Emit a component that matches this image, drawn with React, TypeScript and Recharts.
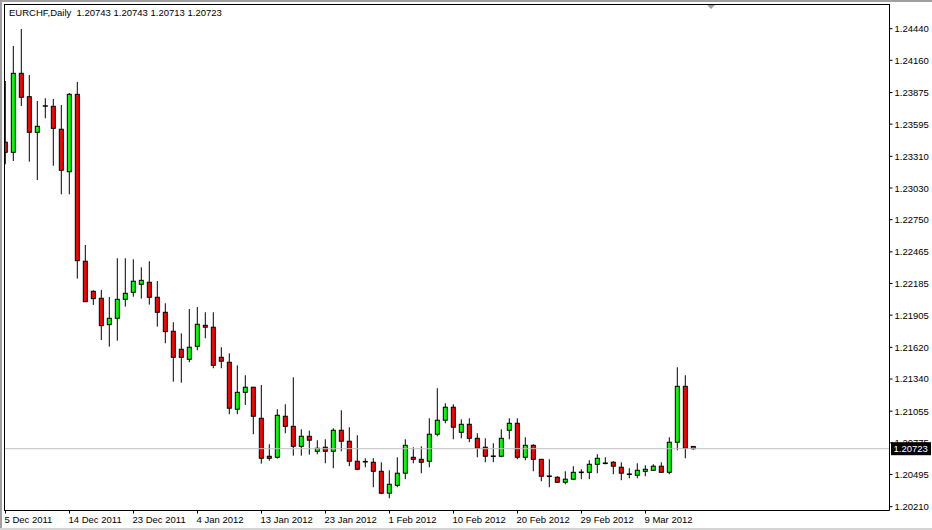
import React from 'react';
import { ComposedChart, Bar, XAxis, YAxis, ReferenceLine } from 'recharts';

const symbol = 'EURCHF';
const period = 'Daily';

const dates = [
  '5 Dec 2011', '6 Dec 2011', '7 Dec 2011', '8 Dec 2011', '9 Dec 2011', '11 Dec 2011', '12 Dec 2011', '13 Dec 2011',
  '14 Dec 2011', '15 Dec 2011', '16 Dec 2011', '18 Dec 2011', '19 Dec 2011', '20 Dec 2011', '21 Dec 2011', '22 Dec 2011',
  '23 Dec 2011', '26 Dec 2011', '27 Dec 2011', '28 Dec 2011', '29 Dec 2011', '30 Dec 2011', '2 Jan 2012', '3 Jan 2012',
  '4 Jan 2012', '5 Jan 2012', '6 Jan 2012', '8 Jan 2012', '9 Jan 2012', '10 Jan 2012', '11 Jan 2012', '12 Jan 2012',
  '13 Jan 2012', '15 Jan 2012', '16 Jan 2012', '17 Jan 2012', '18 Jan 2012', '19 Jan 2012', '20 Jan 2012', '22 Jan 2012',
  '23 Jan 2012', '24 Jan 2012', '25 Jan 2012', '26 Jan 2012', '27 Jan 2012', '29 Jan 2012', '30 Jan 2012', '31 Jan 2012',
  '1 Feb 2012', '2 Feb 2012', '3 Feb 2012', '5 Feb 2012', '6 Feb 2012', '7 Feb 2012', '8 Feb 2012', '9 Feb 2012',
  '10 Feb 2012', '12 Feb 2012', '13 Feb 2012', '14 Feb 2012', '15 Feb 2012', '16 Feb 2012', '17 Feb 2012', '19 Feb 2012',
  '20 Feb 2012', '21 Feb 2012', '22 Feb 2012', '23 Feb 2012', '24 Feb 2012', '26 Feb 2012', '27 Feb 2012', '28 Feb 2012',
  '29 Feb 2012', '1 Mar 2012', '2 Mar 2012', '4 Mar 2012', '5 Mar 2012', '6 Mar 2012', '7 Mar 2012', '8 Mar 2012',
  '9 Mar 2012', '11 Mar 2012', '12 Mar 2012', '13 Mar 2012', '14 Mar 2012', '15 Mar 2012', '16 Mar 2012',
];

const opens = [
  1.23435, 1.23346, 1.24045, 1.23838, 1.23523, 1.23756, 1.23753, 1.23550, 1.23174, 1.23859,
  1.22382, 1.22116, 1.22054, 1.21821, 1.21877, 1.22045, 1.22107, 1.22178, 1.22196, 1.22063,
  1.21930, 1.21762, 1.21603, 1.21514, 1.21629, 1.21815, 1.21798, 1.21532, 1.21488, 1.21072,
  1.21222, 1.21267, 1.20992, 1.20656, 1.20647, 1.21010, 1.20921, 1.20744, 1.20833, 1.20700,
  1.20736, 1.20700, 1.20886, 1.20789, 1.20612, 1.20608, 1.20603, 1.20523, 1.20329, 1.20399,
  1.20506, 1.20647, 1.20629, 1.20612, 1.20851, 1.20975, 1.21090, 1.20868, 1.20939, 1.20815,
  1.20736, 1.20656, 1.20656, 1.20886, 1.20948, 1.20647, 1.20753, 1.20629, 1.20479, 1.20470,
  1.20426, 1.20453, 1.20514, 1.20514, 1.20585, 1.20594, 1.20603, 1.20559, 1.20497, 1.20488,
  1.20523, 1.20532, 1.20568, 1.20514, 1.20780, 1.21275, 1.20743,
];

const highs = [
  1.23977, 1.24287, 1.24437, 1.24030, 1.23800, 1.23824, 1.23818, 1.23765, 1.23871, 1.23968,
  1.22526, 1.22125, 1.22128, 1.22066, 1.22408, 1.22408, 1.22399, 1.22328, 1.22382, 1.22207,
  1.22010, 1.21842, 1.21744, 1.21959, 1.21977, 1.21930, 1.21930, 1.21621, 1.21567, 1.21461,
  1.21373, 1.21270, 1.21287, 1.20762, 1.21072, 1.21116, 1.21355, 1.20895, 1.20883, 1.20798,
  1.20806, 1.20904, 1.21063, 1.20913, 1.20842, 1.20638, 1.20638, 1.20603, 1.20532, 1.20647,
  1.20806, 1.20736, 1.20744, 1.20992, 1.21258, 1.21125, 1.21116, 1.20983, 1.20992, 1.20860,
  1.20815, 1.20771, 1.20895, 1.20992, 1.20992, 1.20824, 1.20762, 1.20632, 1.20629, 1.20479,
  1.20523, 1.20568, 1.20541, 1.20621, 1.20674, 1.20647, 1.20612, 1.20603, 1.20550, 1.20594,
  1.20576, 1.20585, 1.20603, 1.20824, 1.21444, 1.21373, 1.20743,
];

const lows = [
  1.23240, 1.23269, 1.23756, 1.23263, 1.23101, 1.23647, 1.23227, 1.22974, 1.22974, 1.22228,
  1.22021, 1.21995, 1.21685, 1.21626, 1.21679, 1.21980, 1.22068, 1.22051, 1.21998, 1.21803,
  1.21656, 1.21316, 1.21307, 1.21488, 1.21594, 1.21700, 1.21435, 1.21435, 1.21028, 1.21028,
  1.21110, 1.20851, 1.20591, 1.20617, 1.20635, 1.20860, 1.20661, 1.20661, 1.20670, 1.20674,
  1.20594, 1.20550, 1.20700, 1.20568, 1.20532, 1.20559, 1.20382, 1.20320, 1.20284, 1.20382,
  1.20453, 1.20594, 1.20506, 1.20559, 1.20833, 1.20948, 1.20806, 1.20815, 1.20780, 1.20647,
  1.20603, 1.20603, 1.20647, 1.20806, 1.20629, 1.20621, 1.20523, 1.20435, 1.20382, 1.20424,
  1.20408, 1.20444, 1.20453, 1.20453, 1.20506, 1.20585, 1.20497, 1.20444, 1.20461, 1.20461,
  1.20479, 1.20530, 1.20512, 1.20497, 1.20709, 1.20638, 1.20713,
];

const closes = [
  1.23346, 1.24045, 1.23833, 1.23523, 1.23576, 1.23756, 1.23558, 1.23187, 1.23859, 1.22387,
  1.22024, 1.22051, 1.21812, 1.21877, 1.22045, 1.22098, 1.22205, 1.22213, 1.22063, 1.21930,
  1.21759, 1.21532, 1.21532, 1.21621, 1.21824, 1.21798, 1.21461, 1.21497, 1.21081, 1.21222,
  1.21267, 1.21010, 1.20638, 1.20638, 1.21019, 1.20921, 1.20744, 1.20833, 1.20798, 1.20727,
  1.20700, 1.20886, 1.20789, 1.20612, 1.20541, 1.20608, 1.20523, 1.20329, 1.20408, 1.20506,
  1.20753, 1.20629, 1.20603, 1.20851, 1.20975, 1.21090, 1.20913, 1.20939, 1.20815, 1.20727,
  1.20656, 1.20656, 1.20815, 1.20948, 1.20647, 1.20753, 1.20629, 1.20479, 1.20479, 1.20426,
  1.20453, 1.20514, 1.20514, 1.20585, 1.20638, 1.20594, 1.20568, 1.20506, 1.20497, 1.20532,
  1.20541, 1.20568, 1.20514, 1.20780, 1.21275, 1.20727, 1.20723,
];

const dateTicks = [
  '5 Dec 2011', '14 Dec 2011', '23 Dec 2011', '4 Jan 2012', '13 Jan 2012', '23 Jan 2012',
  '1 Feb 2012', '10 Feb 2012', '20 Feb 2012', '29 Feb 2012', '9 Mar 2012',
];

const priceTicks = [
  1.2444, 1.2416, 1.23875, 1.23595, 1.2331, 1.2303, 1.2275, 1.22465,
  1.22185, 1.21905, 1.2162, 1.2134, 1.21055, 1.20775, 1.20495, 1.2021,
];

const priceDomain = [1.20176, 1.24654];

const data = dates.map((date, i) => ({
  date,
  open: opens[i],
  high: highs[i],
  low: lows[i],
  close: closes[i],
}));

const last = data[data.length - 1];
const lastPrice = last.close;

const FONT = "'Liberation Sans', Arial, sans-serif";
const BULL = '#00FF00';
const BEAR = '#FF0000';

function Candle(props: any) {
  const { x, y, width, height, payload } = props;
  if (!payload || x == null || y == null || height == null) return null;
  const cx = x + width / 2;
  const top = Math.min(y, y + height);
  const h = Math.abs(height);
  const span = payload.high - payload.low;
  const py = (v: number) => (span > 0 ? top + ((payload.high - v) / span) * h : top);
  const yO = py(payload.open);
  const yC = py(payload.close);
  const bTop = Math.min(yO, yC);
  const bBot = Math.max(yO, yC);
  const isDoji = bBot - bTop < 1;
  const fill = payload.close >= payload.open ? BULL : BEAR;
  return (
    <g>
      <line x1={cx} x2={cx} y1={top} y2={top + h} stroke="#000" strokeWidth={1} />
      {isDoji ? (
        <line x1={cx - 2.5} x2={cx + 2.5} y1={yO} y2={yO} stroke="#000" strokeWidth={1.6} />
      ) : (
        <rect x={cx - 2} y={bTop} width={4} height={bBot - bTop} fill={fill} stroke="#000" strokeWidth={1} />
      )}
    </g>
  );
}

function XTick(props: any) {
  const { x, y, payload } = props;
  return (
    <text x={x - 1} y={y + 9} textAnchor="start" fontSize={9.5} fontFamily={FONT} fill="#000">
      {payload.value}
    </text>
  );
}

function YTick(props: any) {
  const { x, y, payload } = props;
  return (
    <text x={x} y={y + 3.5} textAnchor="start" fontSize={9.5} fontFamily={FONT} fill="#000">
      {Number(payload.value).toFixed(5)}
    </text>
  );
}

function PriceLabel(props: any) {
  const vb = props.viewBox || {};
  const right = (vb.x || 0) + (vb.width || 0);
  const yy = vb.y || 0;
  return (
    <g>
      <rect x={right + 1.5} y={yy - 6.5} width={40} height={13} fill="#000" />
      <text x={right + 4} y={yy + 3.5} textAnchor="start" fontSize={9.5} fontFamily={FONT} fill="#fff">
        {lastPrice.toFixed(5)}
      </text>
    </g>
  );
}

const titleText = `${symbol},${period}  ${last.open.toFixed(5)} ${last.high.toFixed(5)} ${last.low.toFixed(5)} ${last.close.toFixed(5)}`;

export default function App() {
  return (
    <div
      style={{
        position: 'absolute',
        left: 0,
        top: 0,
        width: 932,
        height: 530,
        background: '#fff',
        overflow: 'hidden',
      }}
    >
      <ComposedChart
        width={932}
        height={530}
        data={data}
        margin={{ top: 4.5, right: 0, bottom: 0, left: 1.5 }}
      >
        <XAxis
          dataKey="date"
          type="category"
          ticks={dateTicks}
          interval={0}
          height={19.5}
          padding={{ left: 0, right: 192 }}
          tickSize={3}
          tickMargin={0}
          axisLine={{ stroke: '#000' }}
          tickLine={{ stroke: '#000' }}
          tick={<XTick />}
        />
        <YAxis
          orientation="right"
          type="number"
          domain={priceDomain}
          allowDataOverflow
          ticks={priceTicks}
          interval={0}
          width={42.5}
          tickSize={3}
          tickMargin={2}
          axisLine={{ stroke: '#000' }}
          tickLine={{ stroke: '#000' }}
          tick={<YTick />}
        />
        <Bar
          dataKey={(d: any) => [d.low, d.high]}
          shape={<Candle />}
          isAnimationActive={false}
        />
        <ReferenceLine y={lastPrice} stroke="#C0C0C0" strokeWidth={1} label={<PriceLabel />} />
      </ComposedChart>
      <div style={{ position: 'absolute', left: 0, top: 0, width: 932, height: 2, background: '#A0A0A0' }} />
      <div style={{ position: 'absolute', left: 0, top: 0, width: 2, height: 530, background: '#A0A0A0' }} />
      <div style={{ position: 'absolute', left: 2, top: 2, width: 2, height: 526, background: '#fff' }} />
      <div style={{ position: 'absolute', left: 0, top: 528, width: 932, height: 2, background: '#D4D4D4' }} />
      <div style={{ position: 'absolute', left: 4, top: 4, width: 886, height: 1, background: '#000' }} />
      <div style={{ position: 'absolute', left: 4, top: 4, width: 1, height: 507, background: '#000' }} />
      <div
        style={{
          position: 'absolute',
          left: 707,
          top: 5,
          width: 0,
          height: 0,
          borderLeft: '4px solid transparent',
          borderRight: '4px solid transparent',
          borderTop: '4px solid #A0A0A0',
        }}
      />
      <div
        style={{
          position: 'absolute',
          left: 9,
          top: 7,
          fontFamily: FONT,
          fontSize: 9.5,
          lineHeight: '11px',
          whiteSpace: 'pre',
          color: '#000',
        }}
      >
        {titleText}
      </div>
    </div>
  );
}
